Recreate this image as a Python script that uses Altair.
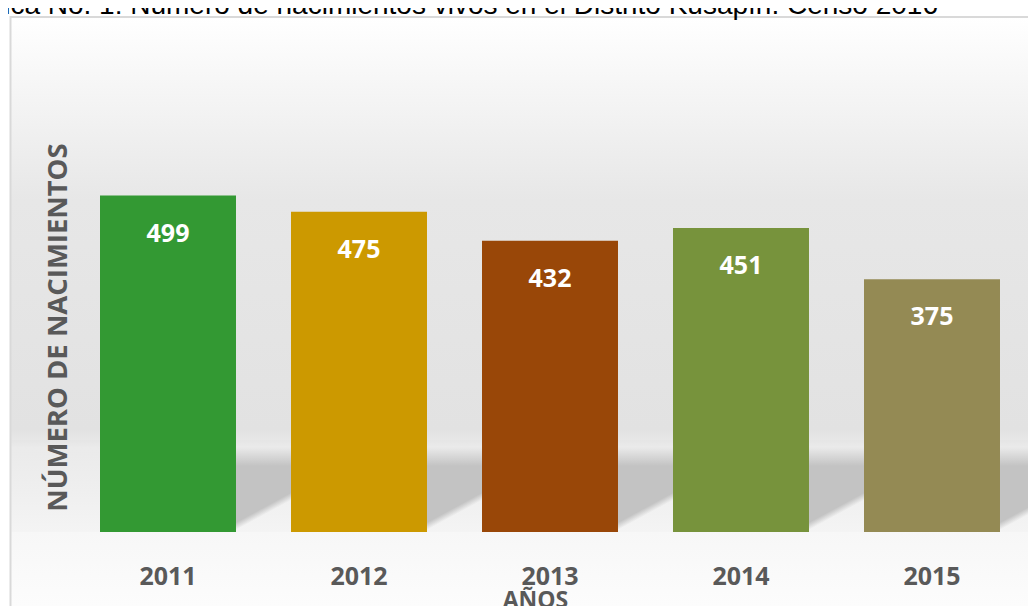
import altair as alt
import pandas as pd

# ---------------- data ----------------
years = ["2011", "2012", "2013", "2014", "2015"]
births = [499, 475, 432, 451, 375]
bar_colors = ["#339933", "#CC9900", "#994708", "#77933C", "#948A54"]

title_text = "Gráfica No. 1: Número de nacimientos vivos en el Distrito Kusapín. Censo 2016"
x_title = "AÑOS"
y_title = "NÚMERO DE NACIMIENTOS"

df = pd.DataFrame({"year": years, "births": births})
one = pd.DataFrame({"k": [0]})

W, H = 955, 472
GREY_TXT = "#595959"
FONT = "Open Sans"


def lg(stops, x1=0, y1=0, x2=0, y2=1):
    return alt.LinearGradient(
        gradient="linear",
        stops=[alt.GradientStop(offset=o, color=c) for o, c in stops],
        x1=x1, y1=y1, x2=x2, y2=y2,
    )


# wall (background behind the bars)
wall = alt.Chart(one).mark_rect(
    color=lg([(0, "#ffffff"), (0.355, "#e7e7e7"), (0.80, "#e2e2e2"),
              (0.833, "#eaeaea"), (0.938, "#f0f0f0"), (1, "#f4f4f4")])
).encode(x=alt.value(-62), x2=alt.value(975), y=alt.value(-43), y2=alt.value(472))

# floor
floor = alt.Chart(one).mark_rect(
    color=lg([(0, "#f7f7f7"), (1, "#fdfdfd")])
).encode(x=alt.value(-62), x2=alt.value(975), y=alt.value(472), y2=alt.value(560))

# perspective shadows cast by each bar on the wall
shadows = alt.Chart(df).mark_bar(
    width=55, xOffset=95.5,
    color=lg([(0, "#c3c3c3"), (0.79, "#c3c3c3"),
              (0.87, "rgba(195,195,195,0)"), (1, "rgba(195,195,195,0)")],
             x1=0, y1=0, x2=0.35, y2=1),
).encode(
    x=alt.X("year:N", sort=years),
    y=alt.value(387), y2=alt.value(472),
)

# soft top edge of the shadow band
fade = alt.Chart(one).mark_rect(
    color=lg([(0, "rgba(229,229,229,1)"), (0.3, "rgba(235,235,235,0.95)"),
              (1, "rgba(235,235,235,0)")])
).encode(x=alt.value(-62), x2=alt.value(975), y=alt.value(380), y2=alt.value(406))

frame = alt.Chart(one).mark_rect(
    fill="transparent", stroke="#d9d9d9", strokeWidth=2
).encode(x=alt.value(-62), x2=alt.value(990), y=alt.value(-43), y2=alt.value(580))

bars = alt.Chart(df).mark_bar().encode(
    x=alt.X(
        "year:N", sort=years,
        scale=alt.Scale(paddingInner=0.288, paddingOuter=0.144),
        axis=alt.Axis(
            labelFont=FONT, labelFontWeight="bold", labelFontSize=25,
            labelColor=GREY_TXT, labelPadding=32, labelAngle=0,
            labelAlign="center", labelBaseline="top",
            ticks=False, domain=False, grid=False, zindex=1,
            title=x_title, titleFont=FONT, titleFontWeight="bold",
            titleFontSize=23, titleColor=GREY_TXT,
            titleX=462.5, titleY=75.4, titleAlign="center",
            titleBaseline="alphabetic",
        ),
    ),
    y=alt.Y(
        "births:Q",
        scale=alt.Scale(domain=[0, 700], nice=False, zero=True),
        axis=alt.Axis(
            labels=False, ticks=False, domain=False, grid=False, zindex=1,
            title=y_title, titleFont=FONT, titleFontWeight="bold",
            titleFontSize=27.5, titleColor=GREY_TXT, titleAngle=270,
            titleX=-14.3, titleY=267, titleAlign="center",
            titleBaseline="middle",
        ),
    ),
    color=alt.Color("year:N", scale=alt.Scale(domain=years, range=bar_colors),
                    legend=None),
)

labels = alt.Chart(df).mark_text(
    dy=38, baseline="middle", align="center", font=FONT,
    fontWeight="bold", fontSize=25, color="white",
).encode(x=alt.X("year:N", sort=years), y="births:Q", text="births:Q")

title = alt.Chart(one).mark_text(
    text=title_text, font="Liberation Sans", fontSize=28, color="black",
    align="right", baseline="alphabetic",
).encode(x=alt.value(865.5), y=alt.value(-46))

chart = alt.layer(wall, floor, shadows, fade, frame, bars, labels, title).properties(
    width=W, height=H,
    autosize=alt.AutoSizeParams(type="none"),
    padding={"left": 64.5, "top": 52, "right": 0.5, "bottom": 74},
    background="white",
).configure_view(stroke=None)

chart.save("out.html", embed_options={"renderer": "svg", "actions": False})
